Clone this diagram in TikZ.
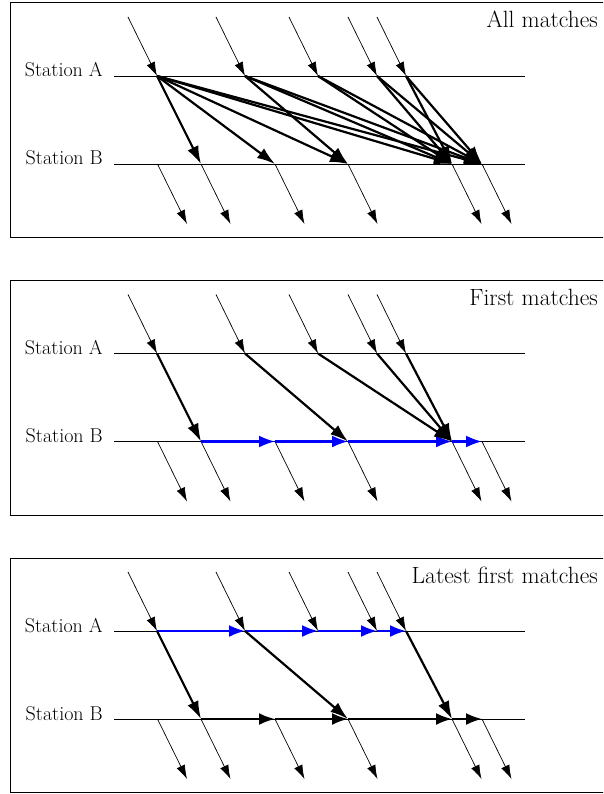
\documentclass[tikz,border=0pt]{standalone}
\usepackage{fontspec}
\usetikzlibrary{arrows.meta}
\tikzset{
  thinarrow/.style={line width=0.7pt, -{Latex[length=14pt,width=9pt]}},
  thickarrow/.style={line width=2.2pt, -{Latex[length=18pt,width=12pt]}},
  bluearrow/.style={line width=2.2pt, blue, -{Latex[length=16pt,width=12pt]}},
  blackchain/.style={line width=2.2pt, black, -{Latex[length=16pt,width=12pt]}},
  station/.style={line width=0.8pt},
  framebox/.style={line width=1pt},
  lab/.style={font=\fontsize{20}{22}\selectfont, anchor=base east, inner sep=0pt},
  ttl/.style={font=\fontsize{23.5}{26}\selectfont, anchor=base east, inner sep=0pt},
}
\begin{document}
\begin{tikzpicture}[x=1pt,y=-1pt]
\useasboundingbox (0,0) rectangle (603,794);
\clip (0,0) rectangle (603,794);
\foreach \p/\dy/\t in {1/0/All matches, 2/277.5/First matches, 3/555/Latest first matches} {
  \begin{scope}[shift={(0,\dy)}]
    \draw[framebox] (10,3) rectangle (640,237.5);
    \node[ttl] (title\p) at (598,28) {\t};
    \node[lab] (labA\p) at (103,77) {Station A};
    \node[lab] (labB\p) at (103,165) {Station B};
    \coordinate (sa\p) at (114,76);
    \coordinate (ea\p) at (525,76);
    \coordinate (sb\p) at (114,164);
    \coordinate (eb\p) at (525,164);
    \draw[station] (sa\p) -- (ea\p);
    \draw[station] (sb\p) -- (eb\p);
    \foreach \i/\x in {1/157, 2/245, 3/318, 4/377, 5/406} {
      \coordinate (A\p-\i) at (\x,76);
      \coordinate (in\p-\i) at ({\x-29},17);
      \draw[thinarrow] (in\p-\i) -- (A\p-\i);
    }
    \foreach \j/\x in {1/157.5, 2/201, 3/275, 4/348, 5/452, 6/482} {
      \coordinate (B\p-\j) at (\x,164);
      \coordinate (out\p-\j) at ({\x+29.5},224);
      \draw[thinarrow] (B\p-\j) -- (out\p-\j);
    }
  \end{scope}
}
% Panel 1: all matches
\foreach \a/\b in {1/2,1/3,1/4,1/5,1/6,2/4,2/5,2/6,3/5,3/6,4/5,4/6,5/5,5/6}
  \draw[thickarrow] (A1-\a) -- (B1-\b);
% Panel 2: first matches
\foreach \a/\b in {2/3,3/4,4/5,5/6}
  \draw[bluearrow] (B2-\a) -- (B2-\b);
\foreach \a/\b in {1/2,2/4,3/5,4/5,5/5}
  \draw[thickarrow] (A2-\a) -- (B2-\b);
% Panel 3: latest first matches
\foreach \a/\b in {1/2,2/3,3/4,4/5}
  \draw[bluearrow] (A3-\a) -- (A3-\b);
\foreach \a/\b in {2/3,3/4,4/5,5/6}
  \draw[blackchain] (B3-\a) -- (B3-\b);
\foreach \a/\b in {1/2,2/4,5/5}
  \draw[thickarrow] (A3-\a) -- (B3-\b);
\end{tikzpicture}
\end{document}
